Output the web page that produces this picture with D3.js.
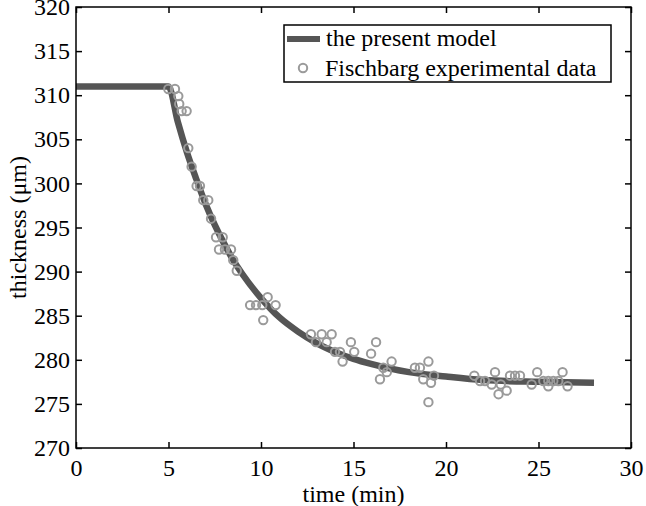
<!DOCTYPE html>
<html>
<head>
<meta charset="utf-8">
<script src="https://cdn.jsdelivr.net/npm/d3@7"></script>
<style>
  body { margin: 0; background: #fff; }
  svg, svg text { font-family: "Liberation Serif", "Times New Roman", Times, serif !important; }
</style>
</head>
<body>
<svg id="chart" width="646" height="506"></svg>
<script>
// model curve
const modelT = [0, 5, 5.5, 6, 6.5, 7, 7.5, 8, 8.5, 9, 10, 11, 12, 13, 14, 15, 16, 17, 18, 20, 22, 25, 28];
const modelV = [311, 311, 307.0, 303.5, 300.5, 297.7, 295.3, 293.2, 291.3, 289.7, 287.0, 284.8, 283.2, 281.9, 280.9, 280.1, 279.5, 279.0, 278.6, 278.1, 277.7, 277.5, 277.4];

// Fischbarg experimental data
const expT = [4.99, 5.35, 5.53, 5.58, 5.71, 5.98, 6.07, 6.25, 6.52, 6.70, 6.88, 7.15, 7.30,
  7.57, 7.93, 7.73, 8.05, 8.38, 8.50, 8.69, 9.41, 9.73, 10.07, 10.36, 10.79, 10.12,
  12.70, 13.28, 13.82, 12.97, 13.55, 14.86, 16.22, 14.00, 14.27, 15.04, 15.95, 14.41,
  17.06, 16.61, 16.80, 16.43, 18.32, 18.59, 19.05, 19.35, 18.77, 19.19, 19.05,
  21.53, 21.84, 22.11, 22.47, 22.65, 22.96, 23.28, 22.84, 23.46, 23.73, 24.00, 24.63,
  24.93, 25.26, 25.53, 25.80, 26.07, 25.53, 26.30, 26.57];
const expV = [310.7, 310.7, 309.9, 309.0, 308.2, 308.2, 304.0, 301.9, 299.7, 299.7, 298.1, 298.1, 296.0,
  293.9, 293.9, 292.5, 292.5, 292.5, 291.3, 290.1, 286.2, 286.2, 286.2, 287.1, 286.2, 284.5,
  282.9, 282.9, 282.9, 282.0, 282.0, 282.0, 282.0, 280.9, 280.9, 280.9, 280.7, 279.8,
  279.8, 279.1, 278.6, 277.8, 279.1, 279.1, 279.8, 278.2, 277.8, 277.4, 275.2,
  278.2, 277.6, 277.6, 277.2, 278.6, 277.2, 276.5, 276.1, 278.2, 278.2, 278.2, 277.2,
  278.6, 277.6, 277.6, 277.6, 277.6, 277.0, 278.6, 277.0];

const xTicks = [0, 5, 10, 15, 20, 25, 30];
const yTicks = [270, 275, 280, 285, 290, 295, 300, 305, 310, 315, 320];

const margin = {top: 7, right: 15, bottom: 58, left: 76};
const width = 646, height = 506;
const fontSize = 24;
const serif = "Liberation Serif, Times New Roman, Times, serif";

const svg = d3.select("#chart");

const x = d3.scaleLinear([0, 30], [margin.left, width - margin.right]);
const y = d3.scaleLinear([270, 320], [height - margin.bottom, margin.top]);

const plotW = x(30) - x(0), plotH = y(270) - y(320);

const lineColor = "#555555";
const dotColor = "#9a9a9a";

// model line
const line = d3.line()
    .x(d => x(d[0]))
    .y(d => y(d[1]))
    .curve(d3.curveMonotoneX);

svg.append("path")
    .datum(d3.zip(modelT, modelV))
    .attr("fill", "none")
    .attr("stroke", lineColor)
    .attr("stroke-width", 6.5)
    .attr("d", line);

// data points
svg.append("g")
    .attr("fill", "none")
    .attr("stroke", dotColor)
    .attr("stroke-width", 2)
  .selectAll("circle")
  .data(d3.zip(expT, expV))
  .join("circle")
    .attr("cx", d => x(d[0]))
    .attr("cy", d => y(d[1]))
    .attr("r", 4.2);

// axes (ticks pointing inwards, box around)
const axisStyle = g => {
  g.attr("font-family", serif).attr("font-size", fontSize);
  g.select(".domain").remove();
  g.selectAll("line").attr("stroke", "#000").attr("stroke-width", 1.5);
  g.selectAll("text").attr("fill", "#000").attr("font-family", serif);
};

svg.append("g")
    .attr("transform", `translate(0,${y(270)})`)
    .call(d3.axisBottom(x).tickValues(xTicks).tickSizeInner(-6).tickSizeOuter(0))
    .call(axisStyle)
    .call(g => g.selectAll("text").attr("y", 28).attr("dy", null));

svg.append("g")
    .attr("transform", `translate(0,${y(320)})`)
    .call(d3.axisTop(x).tickValues(xTicks).tickSizeInner(-6).tickSizeOuter(0).tickFormat(""))
    .call(axisStyle);

svg.append("g")
    .attr("transform", `translate(${x(0)},0)`)
    .call(d3.axisLeft(y).tickValues(yTicks).tickSizeInner(-6).tickSizeOuter(0).tickPadding(5))
    .call(axisStyle)
    .call(g => g.selectAll("text").attr("x", -6));

svg.append("g")
    .attr("transform", `translate(${x(30)},0)`)
    .call(d3.axisRight(y).tickValues(yTicks).tickSizeInner(-6).tickSizeOuter(0).tickFormat(""))
    .call(axisStyle);

svg.append("rect")
    .attr("x", x(0))
    .attr("y", y(320))
    .attr("width", plotW)
    .attr("height", plotH)
    .attr("fill", "none")
    .attr("stroke", "#000")
    .attr("stroke-width", 1.5);

// axis titles
svg.append("text")
    .attr("x", (x(0) + x(30)) / 2)
    .attr("y", 502)
    .attr("text-anchor", "middle")
    .attr("font-size", fontSize)
    .text("time (min)");

svg.append("text")
    .attr("transform", `translate(26,${(y(270) + y(320)) / 2}) rotate(-90)`)
    .attr("text-anchor", "middle")
    .attr("font-size", fontSize)
    .text("thickness (\u03bcm)");

// legend
const legend = svg.append("g");
legend.append("rect")
    .attr("x", 284).attr("y", 25)
    .attr("width", 327).attr("height", 57)
    .attr("fill", "#fff")
    .attr("stroke", "#000")
    .attr("stroke-width", 1.5);
legend.append("line")
    .attr("x1", 287).attr("x2", 320)
    .attr("y1", 39).attr("y2", 39)
    .attr("stroke", lineColor)
    .attr("stroke-width", 6);
legend.append("circle")
    .attr("cx", 303).attr("cy", 68).attr("r", 4.2)
    .attr("fill", "none")
    .attr("stroke", dotColor)
    .attr("stroke-width", 2);
legend.append("text")
    .attr("x", 326).attr("y", 46)
    .attr("font-size", fontSize)
    .text("the present model");
legend.append("text")
    .attr("x", 325).attr("y", 76)
    .attr("font-size", fontSize)
    .text("Fischbarg experimental data");
</script>
</body>
</html>
